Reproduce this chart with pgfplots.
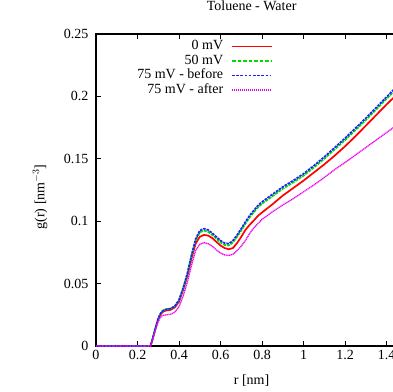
\documentclass[border=0pt]{standalone}
\usepackage{fontspec}
\setmainfont{Liberation Serif}
\usepackage{pgfplots}
\pgfplotsset{compat=1.18}
\usepackage{pgfplotstable}
\definecolor{cred}{RGB}{255,0,0}
\definecolor{cgreen}{RGB}{0,220,0}
\definecolor{cblue}{RGB}{30,30,255}
\definecolor{cmag}{RGB}{240,0,240}
\pgfplotstableread{
r g
0 0
0.262 0
0.27 0.0038
0.28 0.010
0.29 0.016
0.30 0.0215
0.31 0.025
0.32 0.027
0.33 0.028
0.34 0.0285
0.36 0.029
0.38 0.031
0.40 0.0355
0.42 0.045
0.44 0.056
0.46 0.070
0.48 0.082
0.50 0.0875
0.52 0.089
0.54 0.0885
0.56 0.0865
0.58 0.0835
0.60 0.0805
0.62 0.0785
0.64 0.0775
0.66 0.0785
0.68 0.0825
0.70 0.0875
0.72 0.093
0.74 0.097
0.76 0.1005
0.78 0.1042
0.80 0.107
0.85 0.1135
0.90 0.1205
0.95 0.1265
1.00 0.1325
1.05 0.139
1.10 0.1455
1.15 0.1525
1.20 0.160
1.25 0.168
1.30 0.1765
1.35 0.185
1.40 0.1935
1.45 0.2015
1.50 0.210
}\redtab
\pgfplotstableread{
r g
0 0
0.262 0
0.27 0.004
0.28 0.0105
0.29 0.0165
0.30 0.022
0.31 0.0258
0.32 0.028
0.33 0.029
0.34 0.0295
0.36 0.030
0.38 0.0318
0.40 0.0365
0.42 0.046
0.44 0.0575
0.46 0.072
0.48 0.0845
0.50 0.091
0.52 0.0925
0.54 0.0915
0.56 0.089
0.58 0.086
0.60 0.083
0.62 0.081
0.64 0.0805
0.66 0.083
0.68 0.0875
0.70 0.0925
0.72 0.098
0.74 0.103
0.76 0.107
0.78 0.111
0.80 0.114
0.85 0.120
0.90 0.126
0.95 0.131
1.00 0.1365
1.05 0.143
1.10 0.150
1.15 0.1575
1.20 0.165
1.25 0.173
1.30 0.181
1.35 0.1895
1.40 0.198
1.45 0.2065
1.50 0.215
}\greentab
\pgfplotstableread{
r g
0 0
0.262 0
0.27 0.004
0.28 0.0105
0.29 0.0165
0.30 0.022
0.31 0.0258
0.32 0.028
0.33 0.029
0.34 0.0295
0.36 0.030
0.38 0.032
0.40 0.037
0.42 0.0465
0.44 0.058
0.46 0.0725
0.48 0.0855
0.50 0.0925
0.52 0.094
0.54 0.093
0.56 0.0905
0.58 0.0875
0.60 0.0845
0.62 0.0825
0.64 0.082
0.66 0.0845
0.68 0.089
0.70 0.094
0.72 0.0995
0.74 0.1045
0.76 0.1085
0.78 0.1125
0.80 0.1155
0.85 0.1215
0.90 0.1275
0.95 0.1325
1.00 0.138
1.05 0.1445
1.10 0.1515
1.15 0.159
1.20 0.1665
1.25 0.1745
1.30 0.1825
1.35 0.191
1.40 0.1995
1.45 0.208
1.50 0.2165
}\bluetab
\pgfplotstableread{
r g
0 0
0.262 0
0.27 0.0035
0.28 0.009
0.29 0.0145
0.30 0.0195
0.31 0.0228
0.32 0.0245
0.34 0.025
0.36 0.0255
0.38 0.027
0.40 0.0315
0.42 0.040
0.44 0.051
0.46 0.0645
0.48 0.0765
0.50 0.0815
0.52 0.0828
0.54 0.082
0.56 0.080
0.58 0.077
0.60 0.0745
0.62 0.073
0.64 0.0725
0.66 0.0735
0.68 0.0765
0.70 0.080
0.72 0.0845
0.74 0.090
0.76 0.0945
0.78 0.098
0.80 0.1015
0.85 0.1075
0.90 0.113
0.95 0.118
1.00 0.1235
1.05 0.129
1.10 0.135
1.15 0.1413
1.20 0.147
1.25 0.153
1.30 0.159
1.35 0.165
1.40 0.171
1.45 0.177
1.50 0.183
}\magtab
\begin{document}
\begin{tikzpicture}
\useasboundingbox (-96pt,-45pt) rectangle (297pt,346pt);
\begin{axis}[
  at={(0pt,0pt)}, anchor=south west,
  scale only axis, width=311.25pt, height=312pt,
  xmin=0, xmax=1.5, ymin=0, ymax=0.25,
  xtick={0,0.2,0.4,0.6,0.8,1,1.2,1.4},
  ytick={0,0.05,0.1,0.15,0.2,0.25},
  scaled ticks=false,
  tick align=inside, tick pos=both,
  major tick length=5pt,
  every tick/.style={black, line width=0.8pt},
  axis line style={line width=1.2pt},
  font=\fontsize{14}{16}\selectfont,
  xticklabel={\pgfmathprintnumber[fixed,precision=2]{\tick}},
  yticklabel={\pgfmathprintnumber[fixed,precision=2]{\tick}},
  /pgf/number format/assume math mode=true,
  yticklabel style={xshift=-4pt},
  xticklabel style={yshift=-1pt},
  title={Toluene - Water},
  title style={at={(axis description cs:0.5,1.0705)}, anchor=center, inner sep=0pt},
  xlabel={r [nm]},
  xlabel style={at={(axis description cs:0.5,-0.112)}, anchor=center, inner sep=0pt},
  ylabel={g(r) [nm$^{-3}$]},
  ylabel style={at={(axis description cs:-0.18,0.478)}, anchor=center, inner sep=0pt},
  legend plot pos=right,
  legend cell align=right,
  legend style={draw=none, fill=none, at={(axis description cs:0.578,0.99)}, anchor=north east,
    row sep=0pt, column sep=7pt,
    nodes={text height=9.5pt, text depth=3pt, inner sep=1pt},
    font=\fontsize{14}{16}\selectfont},
]
\addplot[cred, line width=1.7pt, legend image code/.code={\draw[cred, line width=1.4pt] (0pt,0pt) -- (40pt,0pt);}] table[x=r,y=g] {\redtab};
\addlegendentry{0 mV}
\addplot[cgreen, line width=1.7pt, dash pattern=on 3pt off 1pt, legend image code/.code={\draw[cgreen, line width=1.4pt, dash pattern=on 3.5pt off 2pt] (0pt,0pt) -- (40pt,0pt);}] table[x=r,y=g] {\greentab};
\addlegendentry{50 mV}
\addplot[cblue, line width=1.7pt, dash pattern=on 2.5pt off 1pt, legend image code/.code={\draw[cblue, line width=1.6pt, dash pattern=on 2.6pt off 1.6pt] (0pt,0pt) -- (38pt,0pt);}] table[x=r,y=g] {\bluetab};
\addlegendentry{75 mV - before}
\addplot[cmag, line width=1.3pt, dash pattern=on 1.2pt off 0.6pt, legend image code/.code={\draw[cmag, line width=1.4pt, dash pattern=on 1pt off 1pt] (0pt,0pt) -- (40pt,0pt);}] table[x=r,y=g] {\magtab};
\addlegendentry{75 mV - after}
\end{axis}
\end{tikzpicture}
\end{document}
